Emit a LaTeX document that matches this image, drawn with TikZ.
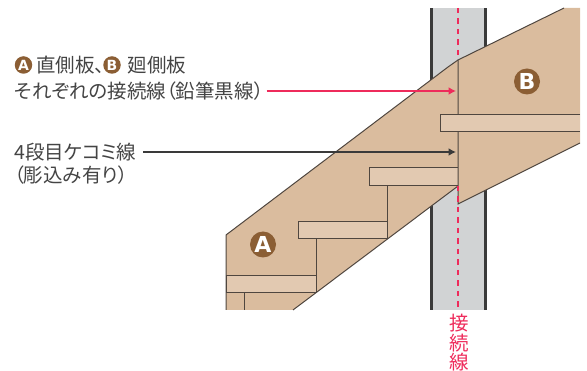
\documentclass[tikz,border=0pt]{standalone}
\usepackage{fontspec}
\setmainfont[RawFeature=+palt]{Noto Sans CJK JP}
\newfontfamily\badgefont{DejaVu Sans}
\definecolor{woodside}{HTML}{DABC9E}
\definecolor{woodtread}{HTML}{E2C9B1}
\definecolor{woodline}{HTML}{4F463F}
\definecolor{wallgrey}{HTML}{D1D3D4}
\definecolor{wallblack}{HTML}{3A3A3A}
\definecolor{pinkline}{HTML}{EE2B5B}
\definecolor{badgebrown}{HTML}{8B5E34}
\definecolor{labelgrey}{HTML}{444444}
\usetikzlibrary{arrows.meta}
\tikzset{
  labeltext/.style={anchor=west,inner sep=0pt,text=labelgrey,font=\fontsize{19.5}{22}\selectfont},
  tread/.style={fill=woodtread,draw=woodline,line width=1pt},
  edgeline/.style={draw=woodline,line width=1pt},
  bigbadge/.style={circle,fill=badgebrown,text=white,minimum size=26pt,inner sep=0pt,font=\fontsize{22}{22}\badgefont\bfseries\selectfont},
  smallbadge/.style={circle,fill=badgebrown,text=white,minimum size=17.5pt,inner sep=0pt,font=\fontsize{14}{14}\badgefont\bfseries\selectfont},
  leader/.style={line width=2pt,-{Latex[length=7.5pt,width=8pt]}},
  connectline/.style={pinkline,line width=1.4pt,dash pattern=on 5.5pt off 5pt},
}
\begin{document}
\begin{tikzpicture}[x=1pt,y=-1pt]
\useasboundingbox (0,0) rectangle (587,371);
% wall
\fill[wallgrey] (432,8) rectangle (485,310);
\fill[wallblack] (430,8) rectangle (433,310);
\fill[wallblack] (484,8) rectangle (487,310);
% side boards
\fill[woodside] (226,235) -- (448,67) -- (458,60) -- (458,186) -- (293,310) -- (226,310) -- cycle;
\draw[edgeline] (226,310) -- (226,235) -- (448,67) -- (458,60);
\draw[edgeline] (458,186) -- (293,310);
\draw[edgeline] (387,186) -- (387,222);
\draw[edgeline] (316,239) -- (316,276);
\draw[edgeline] (244,293) -- (244,310);
\draw[tread] (458,168) -- (369,168) -- (369,186) -- (458,186);
\draw[tread] (298,222) rectangle (387,239);
\draw[tread] (226,276) rectangle (316,293);
\fill[woodside] (458,60) -- (564,8) -- (580,8) -- (580,143) -- (458,204) -- cycle;
\draw[edgeline] (564,8) -- (458,60) -- (458,204) -- (580,143);
\draw[tread] (580,114.5) -- (440,114.5) -- (440,132) -- (580,132);
% connection line
\draw[connectline] (458,8) -- (458,60);
\draw[connectline] (458,186) -- (458,310);
% badges
\node[bigbadge] (badgeA) at (263,244.5) {A};
\node[bigbadge] (badgeB) at (527,81.5) {B};
% labels
\node[smallbadge] (keyA) at (23.5,65) {A};
\node[labeltext] (nameA) at (36,65) {直側板、\kern-3pt};
\node[smallbadge] (keyB) at (112,65) {B};
\node[labeltext] (nameB) at (127.5,65) {廻側板};
\node[labeltext] (redlabel) at (14,91) {それぞれの接続線（鉛筆黒線）};
\node[labeltext] (blacklabel) at (14,152) {4段目ケコミ線};
\node[labeltext] (notelabel) at (14,175) {（彫込み有り）};
\node[inner sep=0pt,align=center,text=pinkline,font=\fontsize{19.5}{19.5}\selectfont] (linelabel) at (459,343) {接\\続\\線};
% leaders
\coordinate (redend) at (456,91);
\coordinate (blackend) at (456,152);
\draw[leader,pinkline] (266.5,91) -- (redend);
\draw[leader,wallblack] (143,152) -- (blackend);
\end{tikzpicture}
\end{document}
